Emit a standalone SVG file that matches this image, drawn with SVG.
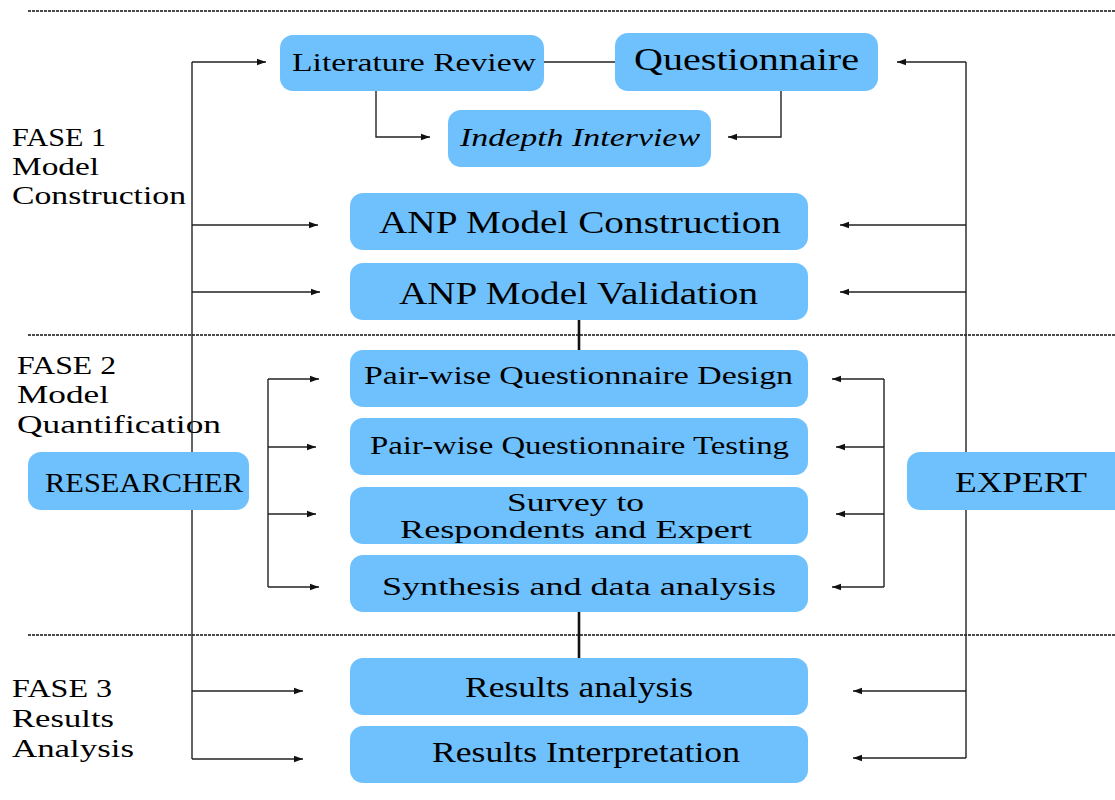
<svg xmlns="http://www.w3.org/2000/svg" width="1115" height="800" viewBox="0 0 1115 800">
<style>
  .box { fill: #6FC1FE; }
  .t { font-family: "Liberation Serif", "Times New Roman", serif; fill: #000; }
  .lbl { font-family: "Liberation Serif", "Times New Roman", serif; fill: #000; font-size: 26px; }
  .ln { stroke: #222; stroke-width: 1.4; fill: none; }
  .thick { stroke: #111; stroke-width: 2.6; fill: none; }
  .dash { stroke: #111; stroke-width: 1.3; stroke-dasharray: 3 1; fill: none; }
</style>
<defs>
  <marker id="ah" markerUnits="userSpaceOnUse" markerWidth="10" markerHeight="8" refX="9" refY="4" orient="auto">
    <path d="M0,0.8 L9,4 L0,7.2 Z" fill="#111"/>
  </marker>
</defs>
<rect x="0" y="0" width="1115" height="800" fill="#fff"/>

<g id="phase-separators">
  <line class="dash" x1="28" y1="11" x2="1115" y2="11"/>
  <line class="dash" x1="28" y1="335" x2="1115" y2="335"/>
  <line class="dash" x1="28" y1="635" x2="1115" y2="635"/>
</g>

<g id="phase-labels">
  <text class="lbl" x="12" y="146" textLength="94" lengthAdjust="spacingAndGlyphs">FASE 1</text>
  <text class="lbl" x="12" y="175" textLength="87" lengthAdjust="spacingAndGlyphs">Model</text>
  <text class="lbl" x="12" y="204" textLength="174" lengthAdjust="spacingAndGlyphs">Construction</text>
  <text class="lbl" x="17" y="374" textLength="99" lengthAdjust="spacingAndGlyphs">FASE 2</text>
  <text class="lbl" x="17" y="403" textLength="92" lengthAdjust="spacingAndGlyphs">Model</text>
  <text class="lbl" x="17" y="433" textLength="204" lengthAdjust="spacingAndGlyphs">Quantification</text>
  <text class="lbl" x="12" y="697" textLength="100" lengthAdjust="spacingAndGlyphs">FASE 3</text>
  <text class="lbl" x="12" y="727" textLength="102" lengthAdjust="spacingAndGlyphs">Results</text>
  <text class="lbl" x="12" y="757" textLength="122" lengthAdjust="spacingAndGlyphs">Analysis</text>
</g>

<g id="connectors">
  <line class="ln" x1="192" y1="62" x2="192" y2="759"/>
  <line class="ln" x1="192" y1="62" x2="266" y2="62" marker-end="url(#ah)"/>
  <line class="ln" x1="192" y1="225" x2="318" y2="225" marker-end="url(#ah)"/>
  <line class="ln" x1="192" y1="292" x2="320" y2="292" marker-end="url(#ah)"/>
  <line class="ln" x1="192" y1="691" x2="303" y2="691" marker-end="url(#ah)"/>
  <line class="ln" x1="192" y1="759" x2="303" y2="759" marker-end="url(#ah)"/>

  <line class="ln" x1="966" y1="62" x2="966" y2="758"/>
  <line class="ln" x1="966" y1="62" x2="897" y2="62" marker-end="url(#ah)"/>
  <line class="ln" x1="966" y1="225" x2="840" y2="225" marker-end="url(#ah)"/>
  <line class="ln" x1="966" y1="292" x2="840" y2="292" marker-end="url(#ah)"/>
  <line class="ln" x1="966" y1="691" x2="853" y2="691" marker-end="url(#ah)"/>
  <line class="ln" x1="966" y1="758" x2="853" y2="758" marker-end="url(#ah)"/>

  <line class="ln" x1="543" y1="62" x2="615" y2="62"/>
  <path class="ln" d="M376 90 V137 H430" marker-end="url(#ah)"/>
  <path class="ln" d="M781 90 V137 H728" marker-end="url(#ah)"/>

  <line class="ln" x1="268" y1="379" x2="268" y2="587"/>
  <line class="ln" x1="268" y1="379" x2="319" y2="379" marker-end="url(#ah)"/>
  <line class="ln" x1="268" y1="447" x2="316" y2="447" marker-end="url(#ah)"/>
  <line class="ln" x1="268" y1="514" x2="316" y2="514" marker-end="url(#ah)"/>
  <line class="ln" x1="268" y1="587" x2="319" y2="587" marker-end="url(#ah)"/>

  <line class="ln" x1="884" y1="379" x2="884" y2="587"/>
  <line class="ln" x1="884" y1="379" x2="832" y2="379" marker-end="url(#ah)"/>
  <line class="ln" x1="884" y1="447" x2="836" y2="447" marker-end="url(#ah)"/>
  <line class="ln" x1="884" y1="514" x2="836" y2="514" marker-end="url(#ah)"/>
  <line class="ln" x1="884" y1="587" x2="832" y2="587" marker-end="url(#ah)"/>

  <line class="thick" x1="579" y1="320" x2="579" y2="351"/>
  <line class="thick" x1="579" y1="611" x2="579" y2="658"/>
</g>

<g id="literature-review">
  <rect class="box" x="280" y="35" width="264" height="56" rx="13"/>
  <text class="t" x="292" y="71" font-size="26" textLength="244" lengthAdjust="spacingAndGlyphs">Literature Review</text>
</g>
<g id="questionnaire">
  <rect class="box" x="615" y="33" width="263" height="58" rx="13"/>
  <text class="t" x="634" y="70" font-size="32" textLength="225" lengthAdjust="spacingAndGlyphs">Questionnaire</text>
</g>
<g id="indepth-interview">
  <rect class="box" x="448" y="110" width="263" height="57" rx="13"/>
  <text class="t" x="460" y="146" font-size="26" font-style="italic" textLength="240" lengthAdjust="spacingAndGlyphs">Indepth Interview</text>
</g>
<g id="anp-construction">
  <rect class="box" x="350" y="193" width="458" height="57" rx="13"/>
  <text class="t" x="379" y="233" font-size="32" textLength="402" lengthAdjust="spacingAndGlyphs">ANP Model Construction</text>
</g>
<g id="anp-validation">
  <rect class="box" x="350" y="263" width="458" height="57" rx="13"/>
  <text class="t" x="399" y="304" font-size="32" textLength="359" lengthAdjust="spacingAndGlyphs">ANP Model Validation</text>
</g>
<g id="pq-design">
  <rect class="box" x="350" y="350" width="458" height="57" rx="13"/>
  <text class="t" x="364" y="384" font-size="25" textLength="429" lengthAdjust="spacingAndGlyphs">Pair-wise Questionnaire Design</text>
</g>
<g id="pq-testing">
  <rect class="box" x="350" y="418" width="458" height="57" rx="13"/>
  <text class="t" x="370" y="454" font-size="25" textLength="419" lengthAdjust="spacingAndGlyphs">Pair-wise Questionnaire Testing</text>
</g>
<g id="survey">
  <rect class="box" x="350" y="487" width="458" height="57" rx="13"/>
  <text class="t" x="507" y="511" font-size="26" textLength="137" lengthAdjust="spacingAndGlyphs">Survey to</text>
  <text class="t" x="400" y="538" font-size="26" textLength="352" lengthAdjust="spacingAndGlyphs">Respondents and Expert</text>
</g>
<g id="synthesis">
  <rect class="box" x="350" y="555" width="458" height="57" rx="13"/>
  <text class="t" x="382" y="595" font-size="26" textLength="394" lengthAdjust="spacingAndGlyphs">Synthesis and data analysis</text>
</g>
<g id="results-analysis">
  <rect class="box" x="350" y="658" width="458" height="57" rx="13"/>
  <text class="t" x="465" y="697" font-size="29" textLength="228" lengthAdjust="spacingAndGlyphs">Results analysis</text>
</g>
<g id="results-interpretation">
  <rect class="box" x="350" y="726" width="458" height="57" rx="13"/>
  <text class="t" x="432" y="762" font-size="29" textLength="308" lengthAdjust="spacingAndGlyphs">Results Interpretation</text>
</g>
<g id="researcher">
  <rect class="box" x="28" y="452" width="221" height="58" rx="13"/>
  <text class="t" x="45" y="492" font-size="27" textLength="198" lengthAdjust="spacingAndGlyphs">RESEARCHER</text>
</g>
<g id="expert">
  <rect class="box" x="907" y="452" width="220" height="58" rx="13"/>
  <text class="t" x="955" y="492" font-size="30" textLength="132" lengthAdjust="spacingAndGlyphs">EXPERT</text>
</g>
</svg>
